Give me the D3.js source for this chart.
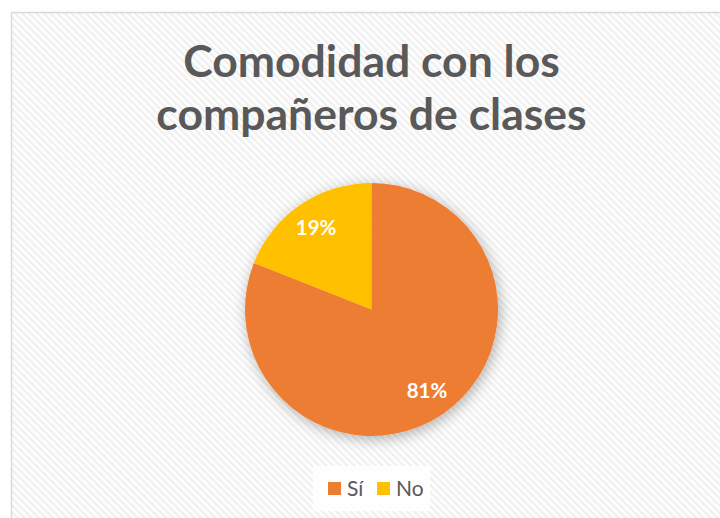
<!DOCTYPE html>
<html>
<head>
<meta charset="utf-8">
<script src="https://cdn.jsdelivr.net/npm/d3@7"></script>
<style>
 body { margin: 0; background: #fff; }
 svg { display: block; }
</style>
</head>
<body>
<svg width="720" height="518"></svg>
<script>
// data
var categories = ["Sí", "No"];
var values = [81, 19];
var colors = ["#ED7D31", "#FFC000"];
var titleLines = ["Comodidad con los", "compañeros de clases"];

var svg = d3.select("svg"),
 width = +svg.attr("width"),
 height = +svg.attr("height");

var defs = svg.append("defs");

// diagonal hatch for the chart area (runs top-left to bottom-right)
var pat = defs.append("pattern")
 .attr("id", "hatch")
 .attr("patternUnits", "userSpaceOnUse")
 .attr("width", 5)
 .attr("height", 5)
 .attr("patternTransform", "rotate(-45)");
pat.append("rect").attr("width", 5).attr("height", 5).attr("fill", "#ffffff");
pat.append("rect").attr("width", 2.5).attr("height", 5).attr("fill", "#f0f0f0");

// soft shadow round the pie
var f = defs.append("filter").attr("id", "shadow")
 .attr("x", "-30%").attr("y", "-30%").attr("width", "160%").attr("height", "160%");
f.append("feGaussianBlur").attr("in", "SourceAlpha").attr("stdDeviation", 7).attr("result", "b");
f.append("feOffset").attr("in", "b").attr("dx", 2).attr("dy", 3).attr("result", "o");
f.append("feComponentTransfer").attr("in", "o").attr("result", "s")
 .append("feFuncA").attr("type", "linear").attr("slope", 0.3);
var m = f.append("feMerge");
m.append("feMergeNode").attr("in", "s");
m.append("feMergeNode").attr("in", "SourceGraphic");

// chart area
svg.append("rect")
 .attr("x", 11.5).attr("y", 12.5)
 .attr("width", width + 10).attr("height", height + 10)
 .attr("fill", "url(#hatch)")
 .attr("stroke", "#d9d9d9")
 .attr("stroke-width", 1.5);

// title
var title = svg.append("text")
 .attr("text-anchor", "middle")
 .attr("font-family", "Lato, 'Open Sans', sans-serif")
 .attr("font-weight", "bold")
 .attr("font-size", 44.5)
 .attr("fill", "#595959");
title.selectAll("tspan")
 .data(titleLines)
 .enter().append("tspan")
 .attr("x", 371.5)
 .attr("y", function(d, i) { return 77 + i * 53; })
 .text(function(d) { return d; });

// pie
var cx = 371.5, cy = 309.5, r = 126.5;
var pie = d3.pie().sort(null).value(function(d) { return d; });
var arc = d3.arc().innerRadius(0).outerRadius(r);
var labelArc = d3.arc().innerRadius(r * 0.78).outerRadius(r * 0.78);
var arcs = pie(values);

var g = svg.append("g").attr("transform", "translate(" + cx + "," + cy + ")");
g.append("g").attr("filter", "url(#shadow)")
 .selectAll("path")
 .data(arcs)
 .enter().append("path")
 .attr("d", arc)
 .attr("fill", function(d, i) { return colors[i]; });

g.selectAll("text.lbl")
 .data(arcs)
 .enter().append("text")
 .attr("class", "lbl")
 .attr("transform", function(d) { return "translate(" + labelArc.centroid(d) + ")"; })
 .attr("text-anchor", "middle")
 .attr("dy", "0.36em")
 .attr("font-family", "Lato, 'Open Sans', sans-serif")
 .attr("font-weight", "bold")
 .attr("font-size", 20.5)
 .attr("fill", "#ffffff")
 .text(function(d) { return Math.round(d.data) + "%"; });

// legend
var legend = svg.append("g").attr("transform", "translate(313,466)");
legend.append("rect")
 .attr("width", 117).attr("height", 45)
 .attr("fill", "#ffffff").attr("opacity", 0.85);
var lx = d3.scaleOrdinal().domain(categories).range([15, 64]);
var item = legend.selectAll("g.item")
 .data(categories)
 .enter().append("g")
 .attr("class", "item")
 .attr("transform", function(d) { return "translate(" + lx(d) + ",0)"; });
item.append("rect")
 .attr("y", 16).attr("width", 13).attr("height", 13)
 .attr("fill", function(d, i) { return colors[i]; });
item.append("text")
 .attr("x", 19).attr("y", 30)
 .attr("font-family", "Lato, 'Open Sans', sans-serif")
 .attr("font-size", 21)
 .attr("fill", "#595959")
 .text(function(d) { return d; });
</script>
</body>
</html>
